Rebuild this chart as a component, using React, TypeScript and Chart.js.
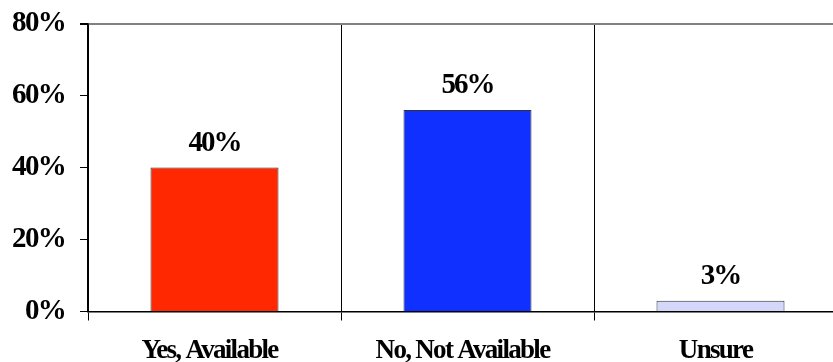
import React, { useEffect, useRef } from "react";
import { Chart, registerables } from "chart.js";

Chart.register(...registerables);

const categories = ["Yes, Available", "No, Not Available", "Unsure"];
const values = [40, 56, 3];
const barColors = ["rgb(255,40,0)", "rgb(16,48,255)", "rgb(212,214,250)"];
const yTicks = [0, 20, 40, 60, 80];

const FONT = "'Liberation Serif', 'Times New Roman', serif";

const condensePlugin = {
  id: "condense",
  beforeDraw(chart: any) {
    (chart.ctx as any).letterSpacing = "-1.7px";
  },
};

const barLabelPlugin = {
  id: "barLabels",
  afterDatasetsDraw(chart: any) {
    const ctx = chart.ctx;
    const meta = chart.getDatasetMeta(0);
    ctx.save();
    (ctx as any).letterSpacing = "-2px";
    ctx.font = `bold 29px ${FONT}`;
    ctx.fillStyle = "#000";
    ctx.textAlign = "center";
    ctx.textBaseline = "alphabetic";
    meta.data.forEach((bar: any, i: number) => {
      ctx.fillText(`${values[i]}%`, bar.x, bar.y - 17);
    });
    ctx.restore();
  },
};

export default function App() {
  const ref = useRef<HTMLCanvasElement>(null);
  useEffect(() => {
    if (!ref.current) return;
    const chart = new Chart(ref.current, {
      type: "bar",
      data: {
        labels: categories,
        datasets: [
          {
            data: values,
            backgroundColor: barColors,
            borderColor: "#333",
            borderWidth: 1,
            categoryPercentage: 1,
            barPercentage: 0.506,
          },
        ],
      },
      options: {
        responsive: false,
        animation: false,
        layout: { padding: { top: 23.5, right: 13, left: 0, bottom: 0 } },
        plugins: { legend: { display: false }, tooltip: { enabled: false } },
        scales: {
          x: {
            grid: {
              offset: true,
              color: "#000",
              lineWidth: 1,
              tickLength: 9,
              tickColor: "#000",
            },
            border: { color: "#000", width: 1.5 },
            ticks: {
              color: "#000",
              font: { family: FONT, size: 27, weight: "bold" },
              padding: 14,
              labelOffset: -5,
              maxRotation: 0,
            },
            afterFit(scale: any) {
              scale.height = 50.5;
              scale.paddingLeft = 0;
              scale.paddingRight = 0;
            },
          },
          y: {
            min: 0,
            max: 80,
            afterBuildTicks(scale: any) {
              scale.ticks = yTicks.map((v) => ({ value: v }));
            },
            grid: {
              color: (c: any) =>
                c.tick && c.tick.value === 80 ? "#808080" : "rgba(0,0,0,0)",
              lineWidth: (c: any) => (c.tick && c.tick.value === 80 ? 2 : 1),
              tickLength: 8,
              tickColor: "#000",
            },
            border: { color: "#000", width: 1.5 },
            ticks: {
              color: "#000",
              font: { family: FONT, size: 29, weight: "bold" },
              padding: 15,
              callback: (v: any) => `${v}%`,
            },
            afterFit(scale: any) {
              scale.width = 88;
              scale.paddingTop = 0;
              scale.paddingBottom = 0;
            },
          },
        },
      },
      plugins: [condensePlugin, barLabelPlugin],
    });
    return () => chart.destroy();
  }, []);
  return (
    <div
      style={{
        position: "fixed",
        left: 0,
        top: 0,
        width: 833,
        height: 362,
        overflow: "hidden",
        background: "#fff",
      }}
    >
      <canvas ref={ref} width={860} height={362} style={{ display: "block" }} />
    </div>
  );
}
